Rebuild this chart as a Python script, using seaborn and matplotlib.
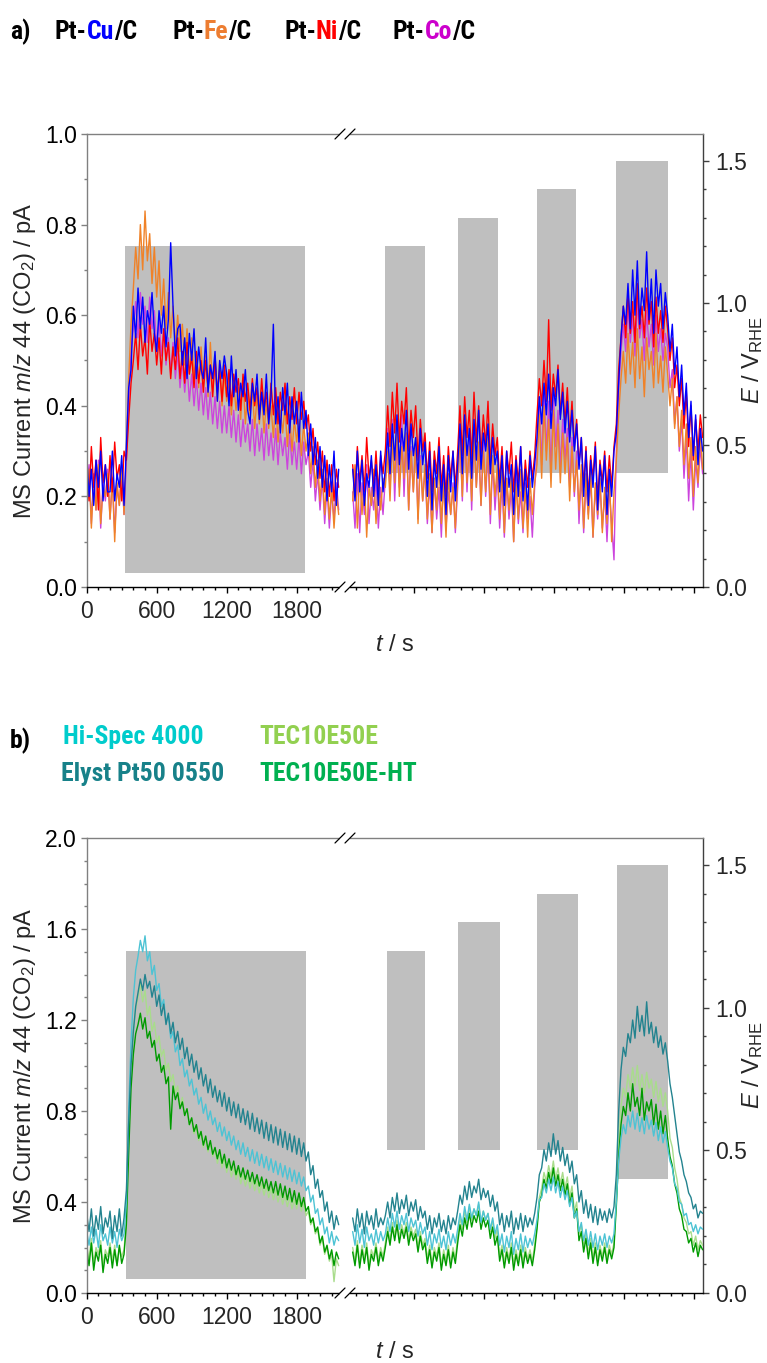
import os
import numpy as np
import pandas as pd
import matplotlib
matplotlib.use("Agg")
import matplotlib.pyplot as plt
from matplotlib.ticker import MultipleLocator, FormatStrFormatter, FixedLocator
from matplotlib.lines import Line2D
from matplotlib.patches import Rectangle
from matplotlib import font_manager as fm
import seaborn as sns

# ---------------- data ----------------
T_LEFT = np.arange(0, 2161, 20)      # s, before the axis break (109 samples)
T_RIGHT = np.arange(2280, 5281, 20)  # s (display time), after the break (151 samples)

CU_LEFT = [0.29,0.20,0.26,0.18,0.28,0.22,0.30,0.19,0.27,0.21,
           0.21,0.30,0.19,0.25,0.22,0.29,0.18,
           0.31,0.44,0.48,
           0.62,0.55,0.66,0.57,0.64,0.54,0.61,0.58,0.65,0.56,
           0.52,0.61,0.56,0.62,0.53,0.59,0.76,0.62,0.51,0.57,
           0.58,0.49,0.55,0.46,0.56,0.50,0.57,0.46,0.53,0.48,
           0.46,0.55,0.43,0.49,0.46,0.52,0.41,0.50,0.46,0.51,
           0.47,0.40,0.51,0.42,0.48,0.39,0.45,0.42,0.48,0.39,
           0.36,0.45,0.41,0.47,0.37,0.43,0.38,0.47,0.36,0.42,
           0.58,0.36,0.42,0.34,0.44,0.38,0.45,0.34,0.42,0.36,
           0.41,0.32,0.43,0.35,0.39,0.29,0.36,0.27,0.33,0.24,
           0.31,0.22,0.29,0.19,0.27,0.21,0.30,0.18,0.26]
CU_RIGHT = [0.26,0.19,0.30,0.21,0.28,0.18,0.25,0.22,0.29,0.20,
            0.27,0.18,0.30,0.21,
            0.26,0.34,0.25,0.36,0.28,0.38,0.27,0.35,0.30,0.39,0.26,0.36,0.29,0.33,0.24,0.35,0.27,0.32,
            0.20,0.30,0.17,0.28,0.22,0.31,0.19,0.27,0.16,0.29,0.21,0.30,0.19,
            0.27,0.36,0.25,0.38,0.29,0.35,0.24,0.37,0.28,0.39,0.26,0.34,0.30,0.36,0.25,0.33,0.27,0.30,
            0.21,0.29,0.18,0.30,0.22,0.27,0.16,0.28,0.20,0.31,0.19,0.26,0.17,0.29,0.22,0.27,
            0.33,0.42,0.36,0.45,0.38,0.47,0.35,0.44,0.40,0.48,0.37,0.43,0.34,0.41,0.32,0.39,0.30,0.36,
            0.26,0.33,0.20,0.30,0.18,0.28,0.22,0.31,0.17,0.27,0.21,0.29,0.16,0.26,0.20,0.30,
            0.34,0.45,0.55,0.62,0.58,0.67,0.57,0.70,0.60,0.72,0.58,0.66,0.61,0.74,0.59,0.68,0.56,0.70,0.62,0.67,0.57,0.65,0.60,
            0.52,0.58,0.47,0.53,0.42,0.49,0.38,0.45,0.33,0.41,0.29,0.38,0.27,0.35,0.30]
FE_LEFT = [0.18,0.26,0.13,0.24,0.17,0.27,0.14,0.22,0.20,0.25,
           0.15,0.24,0.10,0.23,0.18,0.26,0.16,
           0.30,0.46,0.58,
           0.66,0.75,0.68,0.80,0.70,0.83,0.72,0.78,0.67,0.75,
           0.64,0.72,0.60,0.68,0.57,0.65,0.55,0.62,0.53,0.60,
           0.52,0.58,0.49,0.57,0.47,0.55,0.46,0.52,0.44,0.53,
           0.45,0.51,0.42,0.54,0.43,0.49,0.41,0.50,0.40,0.47,
           0.41,0.46,0.38,0.45,0.39,0.44,0.37,0.46,0.36,0.43,
           0.38,0.44,0.35,0.42,0.36,0.43,0.34,0.41,0.35,0.40,
           0.33,0.41,0.32,0.39,0.34,0.40,0.31,0.38,0.30,0.37,
           0.32,0.37,0.29,0.36,0.30,0.34,0.25,0.31,0.22,0.28,
           0.19,0.26,0.16,0.24,0.15,0.22,0.13,0.21,0.16]
FE_RIGHT = [0.19,0.27,0.13,0.25,0.16,0.24,0.11,0.22,0.18,0.26,
            0.14,0.23,0.17,0.24,
            0.22,0.30,0.19,0.33,0.23,0.36,0.20,0.31,0.24,0.34,0.17,0.30,0.21,0.32,0.14,0.28,0.19,0.27,
            0.15,0.25,0.12,0.24,0.17,0.28,0.14,0.23,0.11,0.25,0.16,0.22,0.13,
            0.24,0.33,0.20,0.35,0.23,0.31,0.19,0.34,0.22,0.32,0.18,0.30,0.21,0.33,0.16,0.29,0.20,0.27,
            0.15,0.26,0.12,0.24,0.17,0.25,0.10,0.23,0.15,0.26,0.13,0.22,0.11,0.24,0.16,0.23,
            0.27,0.38,0.24,0.40,0.28,0.37,0.22,0.39,0.26,0.36,0.23,0.34,0.25,0.33,0.19,0.31,0.21,0.28,
            0.17,0.27,0.13,0.25,0.15,0.26,0.11,0.23,0.16,0.24,0.12,0.22,0.14,0.25,0.10,0.21,
            0.28,0.38,0.46,0.52,0.45,0.56,0.47,0.54,0.44,0.57,0.46,0.53,0.42,0.55,0.48,0.52,0.44,0.56,0.45,0.51,0.43,0.53,0.47,
            0.40,0.46,0.35,0.42,0.31,0.39,0.27,0.36,0.24,0.33,0.20,0.31,0.23,0.34,0.26]
NI_LEFT = [0.25,0.19,0.31,0.22,0.28,0.17,0.33,0.23,0.27,0.20,
           0.29,0.21,0.32,0.24,0.27,0.19,0.30,
           0.28,0.37,0.45,
           0.50,0.56,0.48,0.58,0.51,0.55,0.47,0.59,0.52,0.56,
           0.49,0.55,0.47,0.57,0.50,0.54,0.46,0.53,0.48,0.55,
           0.46,0.52,0.45,0.54,0.47,0.51,0.44,0.52,0.45,0.50,
           0.43,0.50,0.44,0.49,0.42,0.51,0.43,0.48,0.41,0.49,
           0.42,0.48,0.40,0.47,0.43,0.46,0.39,0.47,0.41,0.45,
           0.39,0.46,0.40,0.44,0.38,0.46,0.39,0.43,0.37,0.45,
           0.38,0.44,0.36,0.43,0.39,0.45,0.36,0.42,0.37,0.44,
           0.36,0.43,0.37,0.41,0.35,0.38,0.30,0.35,0.27,0.32,
           0.24,0.30,0.21,0.28,0.20,0.27,0.19,0.26,0.22]
NI_RIGHT = [0.27,0.20,0.31,0.23,0.29,0.21,0.33,0.24,0.28,0.22,
            0.30,0.21,0.29,0.25,
            0.30,0.40,0.31,0.43,0.34,0.45,0.32,0.41,0.36,0.44,0.30,0.39,0.33,0.40,0.28,0.37,0.30,0.34,
            0.24,0.32,0.21,0.30,0.25,0.33,0.22,0.29,0.20,0.31,0.24,0.30,0.22,
            0.30,0.40,0.29,0.42,0.33,0.39,0.28,0.43,0.32,0.40,0.29,0.38,0.31,0.41,0.27,0.36,0.29,0.33,
            0.23,0.31,0.20,0.30,0.25,0.32,0.21,0.29,0.23,0.31,0.20,0.28,0.22,0.30,0.24,0.29,
            0.38,0.46,0.40,0.50,0.41,0.59,0.39,0.47,0.42,0.49,0.38,0.45,0.36,0.44,0.33,0.41,0.31,0.37,
            0.27,0.33,0.22,0.31,0.20,0.29,0.24,0.32,0.19,0.28,0.23,0.30,0.21,0.29,0.22,0.31,
            0.36,0.48,0.55,0.62,0.55,0.65,0.56,0.63,0.54,0.67,0.57,0.62,0.55,0.66,0.58,0.63,0.53,0.64,0.56,0.61,0.54,0.62,0.57,
            0.50,0.55,0.44,0.49,0.40,0.46,0.35,0.43,0.31,0.40,0.28,0.37,0.30,0.38,0.33]
CO_LEFT = [0.20,0.27,0.14,0.25,0.17,0.28,0.13,0.23,0.19,0.26,
           0.15,0.24,0.12,0.22,0.18,0.27,0.16,
           0.28,0.42,0.52,
           0.57,0.63,0.55,0.65,0.58,0.62,0.54,0.64,0.57,0.61,
           0.53,0.59,0.51,0.57,0.49,0.55,0.47,0.54,0.46,0.52,
           0.44,0.50,0.43,0.49,0.41,0.47,0.40,0.46,0.39,0.45,
           0.38,0.44,0.37,0.43,0.36,0.42,0.35,0.41,0.34,0.40,
           0.34,0.40,0.33,0.39,0.32,0.38,0.31,0.37,0.32,0.36,
           0.30,0.37,0.29,0.36,0.30,0.35,0.28,0.36,0.29,0.34,
           0.28,0.35,0.27,0.34,0.29,0.33,0.26,0.34,0.27,0.32,
           0.26,0.33,0.25,0.32,0.27,0.30,0.22,0.28,0.19,0.25,
           0.17,0.24,0.14,0.22,0.13,0.21,0.15,0.23,0.17]
CO_RIGHT = [0.21,0.13,0.25,0.12,0.23,0.16,0.27,0.14,0.22,0.17,
            0.24,0.13,0.22,0.16,
            0.24,0.35,0.21,0.37,0.19,0.33,0.22,0.38,0.20,0.34,0.17,0.31,0.21,0.32,0.15,0.29,0.19,0.26,
            0.14,0.23,0.12,0.24,0.15,0.22,0.11,0.25,0.13,0.21,0.16,0.23,0.12,
            0.22,0.34,0.19,0.36,0.21,0.33,0.17,0.35,0.22,0.31,0.18,0.32,0.20,0.30,0.14,0.28,0.17,0.25,
            0.13,0.23,0.11,0.24,0.15,0.22,0.10,0.25,0.14,0.21,0.12,0.23,0.15,0.20,0.11,0.22,
            0.29,0.40,0.27,0.44,0.30,0.41,0.25,0.43,0.31,0.39,0.26,0.37,0.28,0.35,0.22,0.33,0.20,0.30,
            0.14,0.25,0.12,0.23,0.16,0.24,0.11,0.22,0.15,0.23,0.13,0.21,0.10,0.22,0.14,0.06,
            0.30,0.44,0.52,0.58,0.52,0.62,0.54,0.60,0.51,0.63,0.55,0.59,0.50,0.61,0.53,0.58,0.49,0.60,0.52,0.57,0.50,0.56,0.53,
            0.44,0.48,0.36,0.42,0.30,0.37,0.24,0.33,0.19,0.30,0.17,0.28,0.22,0.31,0.25]

ELYST_LEFT = [0.35,0.27,0.37,0.25,0.34,0.28,0.38,0.26,0.33,0.29,
              0.36,0.24,0.34,0.27,0.37,0.25,0.33,
              0.45,0.75,1.00,
              1.15,1.26,1.32,1.38,1.33,1.40,1.34,1.37,1.30,1.35,
              1.26,1.31,1.22,1.27,1.18,1.23,1.14,1.19,1.10,1.15,
              1.07,1.12,1.03,1.08,1.00,1.05,0.97,1.02,0.94,0.99,
              0.91,0.96,0.88,0.94,0.86,0.91,0.84,0.89,0.82,0.88,
              0.80,0.86,0.78,0.84,0.77,0.83,0.75,0.81,0.74,0.80,
              0.72,0.79,0.71,0.77,0.70,0.76,0.68,0.75,0.67,0.74,
              0.66,0.73,0.65,0.72,0.64,0.71,0.63,0.70,0.62,0.69,
              0.61,0.68,0.60,0.66,0.58,0.62,0.52,0.56,0.46,0.50,
              0.42,0.45,0.36,0.40,0.31,0.36,0.28,0.34,0.30]
ELYST_RIGHT = [0.33,0.27,0.37,0.29,0.35,0.26,0.36,0.30,0.34,0.28,
               0.37,0.29,0.33,0.30,
               0.34,0.40,0.33,0.42,0.36,0.44,0.35,0.41,0.37,0.43,0.34,0.40,0.36,0.41,0.32,0.38,0.33,0.36,
               0.28,0.34,0.26,0.33,0.29,0.35,0.27,0.32,0.26,0.34,0.28,0.33,0.30,
               0.36,0.43,0.39,0.47,0.41,0.49,0.42,0.47,0.44,0.50,0.41,0.46,0.42,0.45,0.38,0.43,0.36,0.40,
               0.30,0.35,0.27,0.34,0.29,0.36,0.26,0.33,0.28,0.35,0.27,0.34,0.29,0.33,0.30,0.35,
               0.42,0.52,0.55,0.63,0.58,0.66,0.60,0.70,0.61,0.67,0.58,0.64,0.56,0.61,0.53,0.58,0.48,0.52,
               0.40,0.45,0.35,0.41,0.33,0.39,0.31,0.38,0.30,0.37,0.32,0.36,0.31,0.37,0.33,0.38,
               0.52,0.80,0.98,1.08,1.04,1.14,1.10,1.20,1.12,1.26,1.15,1.22,1.13,1.28,1.14,1.19,1.10,1.17,1.08,1.13,1.05,1.10,1.02,
               0.92,0.86,0.78,0.70,0.62,0.58,0.52,0.49,0.44,0.42,0.37,0.39,0.33,0.36,0.35]
HISPEC_LEFT = [0.27,0.21,0.29,0.22,0.28,0.20,0.30,0.23,0.26,0.21,
               0.29,0.22,0.27,0.20,0.28,0.23,0.26,
               0.40,0.80,1.10,
               1.30,1.42,1.48,1.55,1.50,1.57,1.46,1.50,1.40,1.44,
               1.33,1.36,1.26,1.29,1.19,1.22,1.12,1.15,1.06,1.09,
               1.00,1.03,0.95,0.98,0.91,0.94,0.87,0.90,0.83,0.86,
               0.79,0.83,0.76,0.80,0.74,0.77,0.71,0.75,0.69,0.73,
               0.67,0.71,0.65,0.69,0.63,0.67,0.61,0.66,0.60,0.64,
               0.58,0.63,0.57,0.62,0.56,0.61,0.55,0.60,0.54,0.59,
               0.53,0.58,0.52,0.57,0.51,0.56,0.50,0.55,0.49,0.54,
               0.48,0.53,0.47,0.51,0.45,0.47,0.40,0.43,0.35,0.37,
               0.30,0.33,0.26,0.29,0.22,0.27,0.21,0.25,0.23]
HISPEC_RIGHT = [0.27,0.21,0.30,0.22,0.28,0.20,0.29,0.23,0.26,0.21,
                0.28,0.22,0.27,0.23,
                0.26,0.33,0.27,0.35,0.29,0.36,0.28,0.34,0.30,0.35,0.27,0.33,0.29,0.32,0.25,0.31,0.26,0.29,
                0.21,0.27,0.19,0.26,0.22,0.28,0.20,0.25,0.19,0.27,0.21,0.26,0.22,
                0.28,0.35,0.30,0.38,0.32,0.39,0.33,0.37,0.34,0.40,0.31,0.36,0.32,0.35,0.28,0.33,0.26,0.30,
                0.21,0.26,0.18,0.25,0.20,0.27,0.17,0.24,0.19,0.26,0.18,0.25,0.20,0.24,0.21,0.26,
                0.32,0.41,0.42,0.48,0.44,0.50,0.45,0.51,0.44,0.49,0.42,0.47,0.41,0.45,0.38,0.42,0.33,0.36,
                0.27,0.31,0.23,0.28,0.21,0.27,0.20,0.26,0.19,0.25,0.21,0.26,0.20,0.25,0.22,0.26,
                0.40,0.58,0.68,0.74,0.70,0.78,0.73,0.80,0.72,0.79,0.71,0.77,0.70,0.78,0.72,0.76,0.69,0.75,0.67,0.73,0.66,0.71,0.64,
                0.58,0.55,0.48,0.46,0.40,0.39,0.34,0.35,0.30,0.31,0.27,0.30,0.26,0.29,0.28]
TEC_LEFT = [0.21,0.15,0.24,0.13,0.20,0.17,0.23,0.12,0.19,0.16,
            0.22,0.14,0.21,0.12,0.20,0.16,0.19,
            0.32,0.70,0.98,
            1.15,1.25,1.30,1.36,1.28,1.33,1.22,1.26,1.15,1.19,
            1.10,1.13,1.04,1.07,0.98,1.01,0.93,0.96,0.88,0.91,
            0.82,0.86,0.78,0.81,0.74,0.77,0.70,0.73,0.67,0.71,
            0.64,0.68,0.62,0.66,0.60,0.63,0.57,0.61,0.55,0.59,
            0.53,0.57,0.51,0.55,0.50,0.54,0.48,0.52,0.47,0.51,
            0.46,0.50,0.45,0.49,0.44,0.48,0.43,0.47,0.42,0.46,
            0.41,0.45,0.40,0.44,0.39,0.43,0.38,0.42,0.37,0.41,
            0.37,0.42,0.36,0.40,0.34,0.36,0.30,0.32,0.26,0.28,
            0.21,0.24,0.17,0.20,0.14,0.17,0.05,0.15,0.12]
TEC_RIGHT = [0.20,0.14,0.23,0.13,0.21,0.15,0.22,0.12,0.19,0.16,
             0.22,0.14,0.20,0.16,
             0.22,0.29,0.23,0.31,0.25,0.32,0.24,0.30,0.26,0.31,0.23,0.29,0.25,0.28,0.20,0.27,0.21,0.24,
             0.15,0.21,0.13,0.20,0.16,0.22,0.12,0.19,0.14,0.21,0.13,0.20,0.15,
             0.25,0.33,0.28,0.36,0.31,0.38,0.32,0.37,0.34,0.39,0.31,0.36,0.32,0.35,0.27,0.32,0.24,0.28,
             0.16,0.21,0.13,0.20,0.15,0.22,0.12,0.19,0.14,0.21,0.13,0.20,0.15,0.19,0.14,0.21,
             0.30,0.42,0.46,0.53,0.49,0.56,0.51,0.58,0.50,0.55,0.48,0.53,0.46,0.51,0.42,0.47,0.36,0.40,
             0.26,0.30,0.20,0.26,0.17,0.24,0.15,0.22,0.14,0.21,0.16,0.22,0.15,0.21,0.17,0.22,
             0.42,0.66,0.82,0.90,0.86,0.96,0.90,0.99,0.91,1.00,0.89,0.96,0.88,0.97,0.90,0.94,0.86,0.93,0.84,0.90,0.82,0.88,0.80,
             0.68,0.64,0.55,0.50,0.42,0.39,0.33,0.31,0.26,0.27,0.21,0.25,0.19,0.23,0.21]
HT_LEFT = [0.19,0.12,0.22,0.10,0.18,0.14,0.21,0.09,0.17,0.13,
           0.20,0.11,0.19,0.12,0.21,0.13,0.17,
           0.30,0.62,0.90,
           1.05,1.14,1.18,1.23,1.16,1.21,1.12,1.15,1.08,1.11,
           1.02,1.05,0.97,1.00,0.92,0.95,0.72,0.91,0.85,0.88,
           0.81,0.84,0.78,0.81,0.74,0.77,0.71,0.74,0.68,0.71,
           0.65,0.69,0.63,0.67,0.61,0.64,0.59,0.63,0.57,0.61,
           0.55,0.59,0.54,0.58,0.52,0.56,0.51,0.55,0.50,0.54,
           0.49,0.53,0.48,0.52,0.47,0.51,0.46,0.50,0.45,0.49,
           0.44,0.49,0.43,0.48,0.42,0.47,0.41,0.46,0.40,0.45,
           0.39,0.44,0.38,0.42,0.36,0.38,0.31,0.33,0.27,0.29,
           0.22,0.25,0.18,0.21,0.15,0.19,0.12,0.18,0.15]
HT_RIGHT = [0.18,0.12,0.21,0.11,0.19,0.13,0.20,0.10,0.17,0.14,
            0.20,0.12,0.18,0.14,
            0.20,0.27,0.21,0.29,0.23,0.30,0.22,0.28,0.24,0.29,0.21,0.27,0.23,0.26,0.18,0.25,0.19,0.22,
            0.13,0.19,0.11,0.18,0.14,0.20,0.10,0.17,0.12,0.19,0.11,0.18,0.13,
            0.22,0.30,0.25,0.33,0.28,0.35,0.29,0.34,0.31,0.36,0.28,0.33,0.29,0.32,0.24,0.29,0.21,0.25,
            0.14,0.19,0.11,0.18,0.13,0.20,0.10,0.17,0.12,0.19,0.11,0.18,0.13,0.17,0.12,0.19,
            0.28,0.40,0.43,0.50,0.46,0.53,0.48,0.55,0.47,0.52,0.45,0.50,0.43,0.48,0.39,0.44,0.33,0.37,
            0.23,0.27,0.18,0.24,0.15,0.22,0.13,0.20,0.12,0.19,0.14,0.20,0.13,0.19,0.15,0.20,
            0.38,0.60,0.74,0.82,0.78,0.88,0.80,0.92,0.82,0.86,0.78,0.90,0.76,0.84,0.80,0.85,0.74,0.83,0.72,0.80,0.70,0.78,0.68,
            0.60,0.56,0.48,0.44,0.37,0.34,0.28,0.27,0.22,0.24,0.18,0.22,0.16,0.21,0.19]

# potential program (grey blocks): start, end [s], lower / upper potential [V_RHE]
BLOCK_START_A = [326, 2560, 3182, 3860, 4537]
BLOCK_END_A = [1872, 2900, 3525, 4194, 4983]
E_LOW_A = [0.05, 0.40, 0.40, 0.40, 0.40]
BLOCK_START_B = [338, 2570, 3182, 3860, 4545]
BLOCK_END_B = [1880, 2900, 3540, 4210, 4983]
E_LOW_B = [0.05, 0.50, 0.50, 0.50, 0.40]
E_HIGH = [1.2, 1.2, 1.3, 1.4, 1.5]

X_MAJOR_LEFT = [0, 600, 1200, 1800]
X_MAJOR_RIGHT = [2805, 3405, 4005, 4605, 5205]

SERIES_A = ["Pt-Co/C", "Pt-Fe/C", "Pt-Ni/C", "Pt-Cu/C"]
SERIES_B = ["TEC10E50E", "TEC10E50E-HT", "Hi-Spec 4000", "Elyst Pt50 0550"]
PALETTE_A = {"Pt-Cu/C": "#0000FF", "Pt-Fe/C": "#F08228",
             "Pt-Ni/C": "#FF0000", "Pt-Co/C": "#CC44DD"}
PALETTE_B = {"Hi-Spec 4000": "#4DC3D4", "Elyst Pt50 0550": "#23838F",
             "TEC10E50E": "#A9DC8C", "TEC10E50E-HT": "#009A00"}
GRAY = "#BFBFBF"

# ---------------- style ----------------
sns.set_theme(style="ticks")
plt.rcParams["font.family"] = ["Liberation Sans", "DejaVu Sans"]
plt.rcParams["mathtext.fontset"] = "custom"
plt.rcParams["mathtext.rm"] = "Liberation Sans"
plt.rcParams["mathtext.it"] = "Liberation Sans:italic"
plt.rcParams["mathtext.bf"] = "Liberation Sans:bold"


def pick_narrow_bold():
    """Bold narrow grotesque face (like Arial Narrow Bold) if one is installed."""
    prefs = ["Liberation Sans Narrow", "Arial Narrow", "Roboto Condensed",
             "PT Sans Narrow", "Archivo Narrow", "Barlow Semi Condensed"]
    found = {}
    for f in fm.fontManager.ttflist:
        if f.name not in prefs or f.style != "normal":
            continue
        try:
            w = int(f.weight)
        except (TypeError, ValueError):
            w = 700 if str(f.weight).lower() == "bold" else 400
        base = os.path.basename(f.fname).lower()
        score = abs(w - 700)
        if "bold" in base and "semi" not in base and "extra" not in base:
            score -= 50
        if f.name not in found or score < found[f.name][0]:
            found[f.name] = (score, f.fname)
    for p in prefs:
        if p in found and found[p][0] <= 0:
            return fm.FontProperties(fname=found[p][1])
    return fm.FontProperties(family="Liberation Sans", weight="bold")


TITLE_FONT = pick_narrow_bold()

W, H = 767, 1363
fig = plt.figure(figsize=(W / 100, H / 100), dpi=100)
fig.patch.set_facecolor("white")


def px_axes(l, t, r, b):
    return fig.add_axes([l / W, 1 - b / H, (r - l) / W, (b - t) / H])


def fx(x):
    return x / W


def fy(y):
    return 1 - y / H


def long_frame(series):
    rows = []
    for name, (left, right) in series.items():
        rows.append(pd.DataFrame({"t": T_LEFT, "I": left, "series": name, "seg": "left"}))
        rows.append(pd.DataFrame({"t": T_RIGHT, "I": right, "series": name, "seg": "right"}))
    return pd.concat(rows, ignore_index=True)


def draw_panel(ax, df, order, palette, ymax, ymajor, starts, ends, lows):
    ax2 = ax.twinx()
    ax.set_zorder(2)
    ax2.set_zorder(1)
    ax.patch.set_visible(False)
    for s, e, lo, hi in zip(starts, ends, lows, E_HIGH):
        ax2.fill_between([s, e], [lo, lo], [hi, hi], color=GRAY, lw=0)
    sns.lineplot(data=df, x="t", y="I", hue="series", units="seg", estimator=None,
                 hue_order=order, palette=palette, linewidth=1.0, legend=False,
                 ax=ax, sort=False)
    ax.set_xlim(0, 5283)
    ax.set_ylim(0, ymax)
    ax2.set_ylim(0, 1.595)

    ax.set_xticks(X_MAJOR_LEFT + X_MAJOR_RIGHT,
                  labels=[str(v) for v in X_MAJOR_LEFT] + [""] * len(X_MAJOR_RIGHT))
    minor = [v for v in range(100, 2101, 100) if v not in X_MAJOR_LEFT]
    minor += [v for v in range(2305, 5206, 100) if v not in X_MAJOR_RIGHT]
    ax.xaxis.set_minor_locator(FixedLocator(minor))
    ax.yaxis.set_major_locator(MultipleLocator(ymajor))
    ax.yaxis.set_minor_locator(MultipleLocator(0.1))
    ax.yaxis.set_major_formatter(FormatStrFormatter("%.1f"))
    ax2.yaxis.set_major_locator(MultipleLocator(0.5))
    ax2.yaxis.set_minor_locator(MultipleLocator(0.1))
    ax2.yaxis.set_major_formatter(FormatStrFormatter("%.1f"))

    ax.tick_params(axis="y", which="major", direction="out", length=4, width=1,
                   color="#808080", labelsize=16.5, pad=3, labelcolor="black")
    ax.tick_params(axis="y", which="minor", direction="out", length=2.5, width=1, color="#808080")
    ax.tick_params(axis="x", which="major", direction="out", length=4, width=1,
                   color="black", labelsize=16.5, pad=5, top=False)
    ax.tick_params(axis="x", which="minor", direction="out", length=2.5, width=1,
                   color="black", top=False)
    ax2.tick_params(axis="y", which="major", direction="out", length=4, width=1,
                    color="#404040", labelsize=16.5, pad=5)
    ax2.tick_params(axis="y", which="minor", direction="out", length=2.5, width=1, color="#404040")

    for side in ["left", "top"]:
        ax.spines[side].set_color("#808080")
        ax.spines[side].set_linewidth(1.0)
    ax.spines["bottom"].set_color("black")
    ax.spines["bottom"].set_linewidth(1.0)
    ax.spines["right"].set_visible(False)
    for side in ["left", "top", "bottom"]:
        ax2.spines[side].set_visible(False)
    ax2.spines["right"].set_color("#404040")
    ax2.spines["right"].set_linewidth(1.0)

    ax.set_ylabel(r"MS Current $\mathit{m/z}$ 44 (CO$_2$) / pA", fontsize=17)
    ax.yaxis.label.set_horizontalalignment("center")
    ax.yaxis.label.set_verticalalignment("center")
    ax.yaxis.set_label_coords(-0.100, 0.5)
    ax2.set_ylabel(r"$E$ / V$_\mathrm{RHE}$", fontsize=17)
    ax2.yaxis.label.set_horizontalalignment("center")
    ax2.yaxis.label.set_verticalalignment("center")
    ax2.yaxis.set_label_coords(1.080, 0.5)
    ax.set_xlabel(r"$t$ / s", fontsize=17)
    ax.xaxis.label.set_verticalalignment("center")
    ax.xaxis.set_label_coords(0.50, -0.128)
    return ax2


def break_marks(y_top, y_bot):
    for y in (y_top, y_bot):
        fig.add_artist(Rectangle((fx(340), fy(y + 2.5)), (350 - 340) / W, 5 / H,
                                 transform=fig.transFigure, facecolor="white",
                                 edgecolor="none", zorder=9))
        for xc in (340, 350):
            fig.add_artist(Line2D([fx(xc - 5), fx(xc + 5)], [fy(y + 5), fy(y - 5)],
                                  transform=fig.transFigure, color="black", lw=0.9, zorder=10))


def colored_text(x_px, y_px, pieces, size):
    renderer = fig.canvas.get_renderer()
    x = fx(x_px)
    for s, c in pieces:
        fp = TITLE_FONT.copy()
        fp.set_size(size)
        t = fig.text(x, fy(y_px), s, color=c, fontproperties=fp, va="baseline")
        bb = t.get_window_extent(renderer)
        x += bb.width / fig.bbox.width


# title size: fit the reference width of "Hi-Spec 4000" (about 140 px)
_renderer = fig.canvas.get_renderer()
_fp = TITLE_FONT.copy()
_fp.set_size(20)
_probe = fig.text(0, 0, "Hi-Spec 4000", fontproperties=_fp)
_w = _probe.get_window_extent(_renderer).width
_probe.remove()
TITLE_SIZE = max(15.0, min(24.0, 20 * 140.0 / _w))

# ---------------- panel a ----------------
ax_a = px_axes(86.7, 134, 703, 587)
df_a = long_frame({"Pt-Cu/C": (CU_LEFT, CU_RIGHT), "Pt-Fe/C": (FE_LEFT, FE_RIGHT),
                   "Pt-Ni/C": (NI_LEFT, NI_RIGHT), "Pt-Co/C": (CO_LEFT, CO_RIGHT)})
draw_panel(ax_a, df_a, SERIES_A, PALETTE_A, 1.0, 0.2,
           BLOCK_START_A, BLOCK_END_A, E_LOW_A)
break_marks(134, 587)

# ---------------- panel b ----------------
ax_b = px_axes(86.7, 838, 703, 1293)
df_b = long_frame({"Hi-Spec 4000": (HISPEC_LEFT, HISPEC_RIGHT),
                   "Elyst Pt50 0550": (ELYST_LEFT, ELYST_RIGHT),
                   "TEC10E50E": (TEC_LEFT, TEC_RIGHT),
                   "TEC10E50E-HT": (HT_LEFT, HT_RIGHT)})
draw_panel(ax_b, df_b, SERIES_B, PALETTE_B, 2.0, 0.4,
           BLOCK_START_B, BLOCK_END_B, E_LOW_B)
ax_b.xaxis.set_label_coords(0.50, -0.130)
break_marks(838, 1293)

# ---------------- headers ----------------
K = "black"
S = TITLE_SIZE
colored_text(10, 39, [("a)", K)], S)
colored_text(55, 39, [("Pt-", K), ("Cu", "#0000FF"), ("/C", K)], S)
colored_text(172, 39, [("Pt-", K), ("Fe", "#ED7D31"), ("/C", K)], S)
colored_text(284, 39, [("Pt-", K), ("Ni", "#FF0000"), ("/C", K)], S)
colored_text(393, 39, [("Pt-", K), ("Co", "#CC00CC"), ("/C", K)], S)

colored_text(10, 748, [("b)", K)], S)
colored_text(63, 744, [("Hi-Spec 4000", "#00CCCC")], S)
colored_text(259, 744, [("TEC10E50E", "#92D050")], S)
colored_text(61, 781, [("Elyst Pt50 0550", "#178189")], S)
colored_text(259, 781, [("TEC10E50E-HT", "#00B050")], S)

fig.savefig("out.png", dpi=100, facecolor="white")
